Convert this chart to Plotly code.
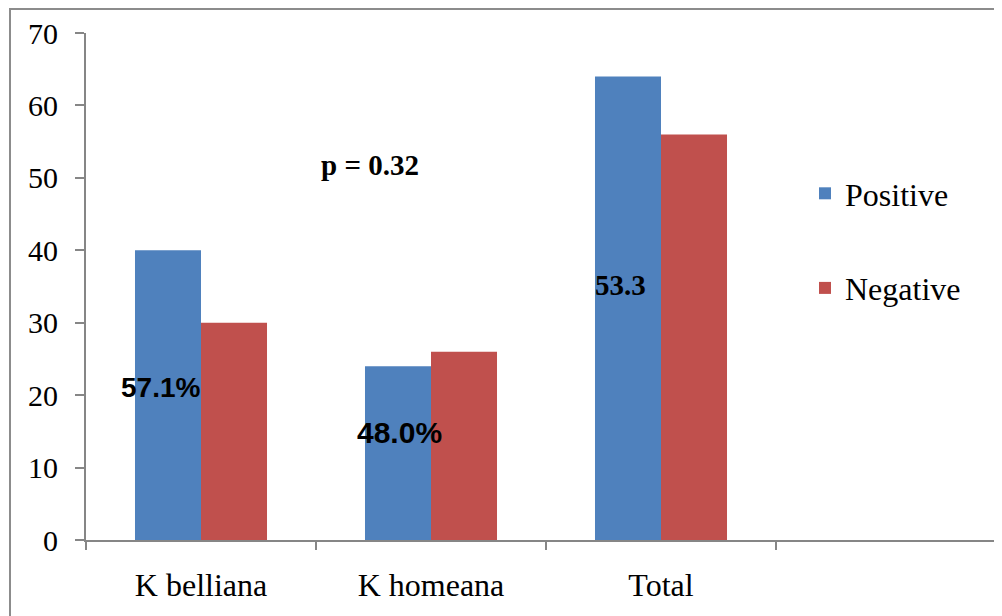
import plotly.graph_objects as go

categories = ["K belliana", "K homeana", "Total"]
positive = [40, 24, 64]
negative = [30, 26, 56]
series_names = ["Positive", "Negative"]
colors = ["#4F81BD", "#C0504D"]
y_ticks = [0, 10, 20, 30, 40, 50, 60, 70]

fig = go.Figure()
for name, vals, col, grp in zip(series_names, [positive, negative], colors, ["a", "b"]):
    fig.add_trace(go.Bar(
        x=categories, y=vals, name=name, marker=dict(color=col, line=dict(width=0)),
        legendgroup=grp,
    ))

serif = "Liberation Serif, Times New Roman, serif"
sans = "Liberation Sans, Arial, sans-serif"

annotations = [
    dict(x=0.735, y=51.8, text="<b>p = 0.32</b>", font=dict(family=serif, size=29, color="black")),
    dict(x=-0.178, y=21.1, text="<b>57.1%</b>", font=dict(family=sans, size=28, color="black")),
    dict(x=0.865, y=14.8, text="<b>48.0%</b>", font=dict(family=sans, size=30, color="black")),
    dict(x=1.822, y=35.2, text="<b>53.3</b>", font=dict(family=serif, size=29, color="black")),
]
for a in annotations:
    fig.add_annotation(xref="x", yref="y", showarrow=False, **a)

# page offsets the figure by 8px; plot area in figure pixels: left 78, top 25, w 924, h 507
PL, PT, PW, PH = 78, 25, 924, 507

# outer chart frame (grey border)
fig.add_shape(type="rect", xref="paper", yref="paper",
              x0=(2 - PL) / PW, x1=1.2, y0=-0.3, y1=(PT + PH - 1) / PH,
              line=dict(color="#8C8C8C", width=2), fillcolor="rgba(0,0,0,0)", layer="below")

fig.update_layout(
    width=1002, height=616,
    margin=dict(l=PL, r=0, t=PT, b=616 - PT - PH),
    paper_bgcolor="white", plot_bgcolor="white",
    barmode="group", bargap=0.426, bargroupgap=0,
    showlegend=True,
    legend=dict(x=(797 - PL) / PW, y=(PT + PH - 158) / PH, xanchor="left", yanchor="top",
                font=dict(family=serif, size=32, color="black"),
                traceorder="grouped", tracegroupgap=50, bgcolor="rgba(0,0,0,0)",
                itemwidth=30),
    xaxis=dict(type="category", range=[-0.5, -0.5 + PW / 230], tickson="boundaries",
               ticks="outside", ticklen=8, tickcolor="#868686", tickwidth=2,
               showline=True, linecolor="#868686", linewidth=2, showgrid=False,
               tickfont=dict(family=serif, size=32, color="black"), ticklabelstandoff=16,
               automargin=False),
    yaxis=dict(range=[0, 70], tickvals=y_ticks, ticks="outside", ticklen=9,
               tickcolor="#868686", tickwidth=2, showline=True, linecolor="#868686",
               linewidth=2, showgrid=False, zeroline=False,
               tickfont=dict(family=serif, size=30, color="black"), ticklabelstandoff=11,
               automargin=False),
)

fig.write_html("out.html")
